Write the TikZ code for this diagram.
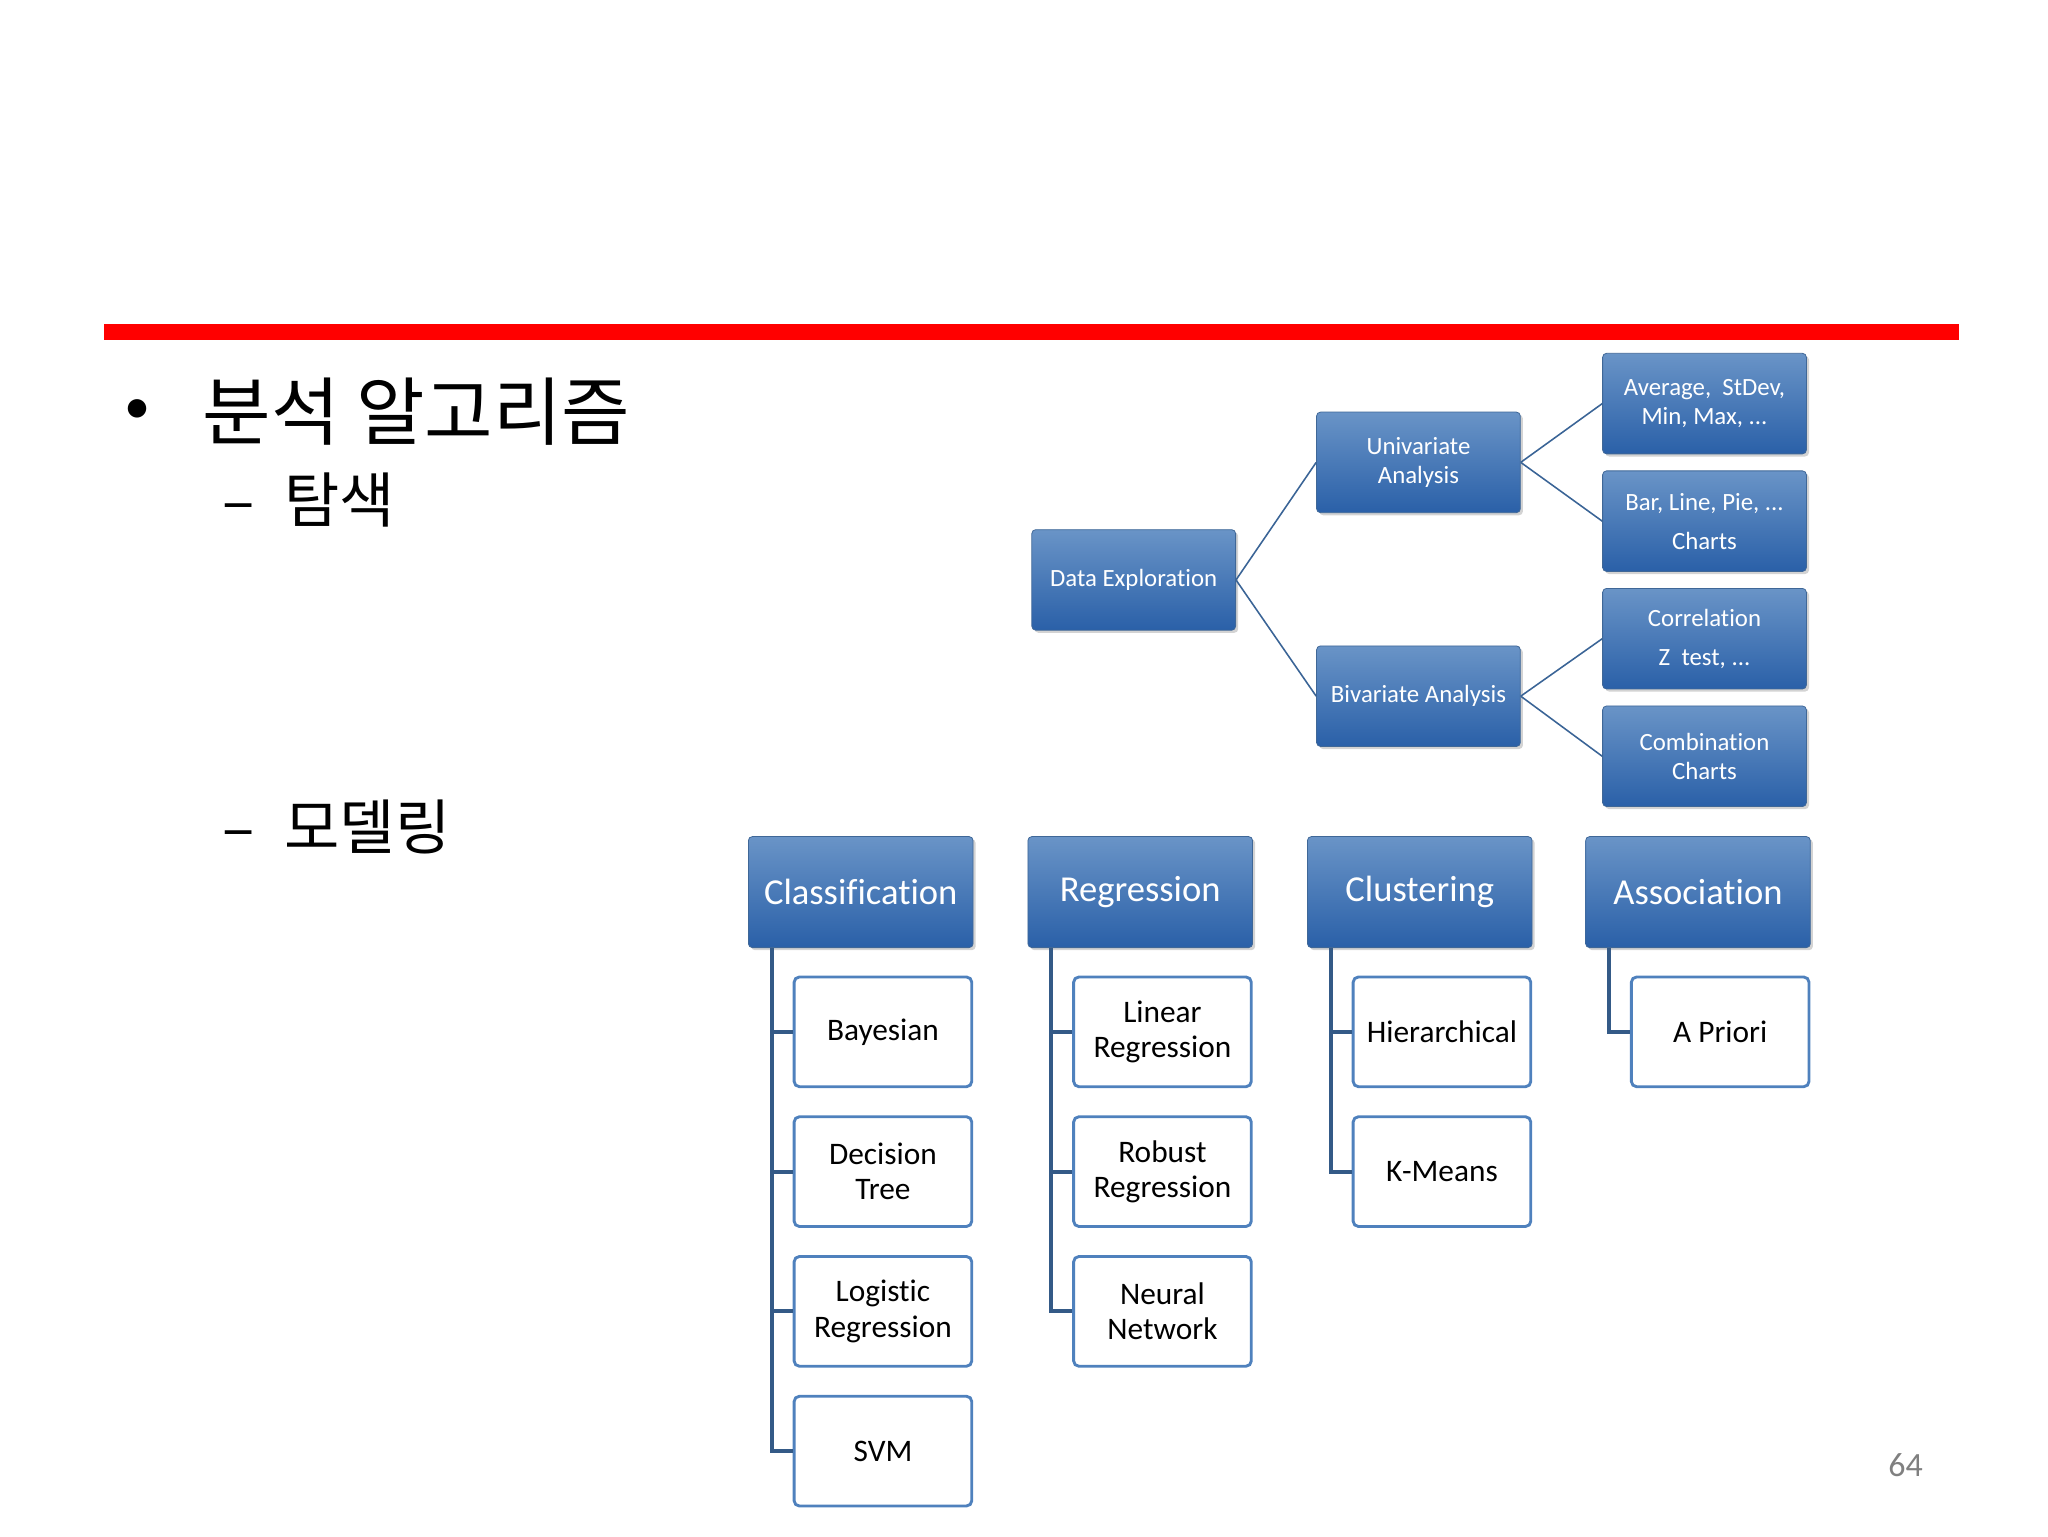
\documentclass[tikz,border=0pt]{standalone}
\usepackage{fontspec}
\setmainfont{Carlito}[Ligatures=CommonOff]
\newfontfamily\kr{Noto Sans CJK KR}
\usetikzlibrary{shadows}
\definecolor{bl}{HTML}{4F81BD}
\definecolor{bld}{HTML}{2A60A8}
\definecolor{ln}{HTML}{3A6496}
\tikzset{
 bbox/.style={rounded corners=3pt, top color=bl!85!white, bottom color=bld, draw=bl!80!black, line width=0.6pt, text=white, align=center, inner sep=0pt, drop shadow={opacity=0.35, shadow xshift=2pt, shadow yshift=-2pt}},
 sbox/.style={bbox, minimum width=156pt, minimum height=77pt, font=\fontsize{19}{22}\selectfont},
 cbox/.style={bbox, minimum width=172pt, minimum height=85pt, font=\fontsize{28}{32}\selectfont},
 wbox/.style={rounded corners=4pt, draw=bl, line width=2.2pt, fill=white, align=center, minimum width=136pt, minimum height=84pt, font=\fontsize{24}{27}\selectfont, text=black},
 conn/.style={draw=ln, line width=1.2pt},
 tree/.style={draw=ln!90!black, line width=3pt},
}
\begin{document}
\begin{tikzpicture}[x=1pt,y=-1pt]
\useasboundingbox (0,0) rectangle (1568,1176);
\fill[red] (80,248) rectangle (1500,260);
\node[anchor=west] (bul) at (92,315) {\fontsize{40}{40}\selectfont •};
\node[anchor=west,inner sep=0] (t1) at (155,315) {\kr\fontsize{57}{62}\selectfont 분석 알고리즘};
\node[anchor=west,inner sep=0] (t2) at (170,383) {\kr\fontsize{46}{50}\selectfont –\hspace{0.5em}탐색};
\node[anchor=west,inner sep=0] (t3) at (170,633) {\kr\fontsize{46}{50}\selectfont –\hspace{0.5em}모델링};
\node[sbox] (de) at (868,444) {Data Exploration};
\node[sbox] (ua) at (1086,354) {Univariate\\Analysis};
\node[sbox] (ba) at (1086,533) {Bivariate Analysis};
\node[sbox] (r1) at (1305,309) {Average,\ \ StDev,\\Min, Max, ...};
\node[sbox] (r2) at (1305,399) {Bar, Line, Pie, ...\\[8pt]Charts};
\node[sbox] (r3) at (1305,489) {Correlation\\[8pt]Z\ \ test, ...};
\node[sbox] (r4) at (1305,579) {Combination\\Charts};
\draw[conn] (de.east) -- (ua.west);
\draw[conn] (de.east) -- (ba.west);
\draw[conn] (ua.east) -- (r1.west);
\draw[conn] (ua.east) -- (r2.west);
\draw[conn] (ba.east) -- (r3.west);
\draw[conn] (ba.east) -- (r4.west);
\node[cbox] (c1) at (659,683) {Classification};
\node[cbox] (c2) at (873,683) {Regression};
\node[cbox] (c3) at (1087,683) {Clustering};
\node[cbox] (c4) at (1300,683) {Association};
\node[wbox] (a1) at (676,790) {Bayesian};
\node[wbox] (a2) at (676,897) {Decision\\Tree};
\node[wbox] (a3) at (676,1004) {Logistic\\Regression};
\node[wbox] (a4) at (676,1111) {SVM};
\node[wbox] (b1) at (890,790) {Linear\\Regression};
\node[wbox] (b2) at (890,897) {Robust\\Regression};
\node[wbox] (b3) at (890,1004) {Neural\\Network};
\node[wbox] (d1) at (1104,790) {Hierarchical};
\node[wbox] (d2) at (1104,897) {K-Means};
\node[wbox] (e1) at (1317,790) {A Priori};
\foreach \p/\xx/\cs in {c1/591/{a1,a2,a3,a4}, c2/805/{b1,b2,b3}, c3/1019/{d1,d2}, c4/1232/{e1}}{
  \foreach \c in \cs { \draw[tree] (\xx,726) |- (\c.west); }
}
\node[text=gray] (pg) at (1459,1122) {\fontsize{26}{28}\selectfont 64};
\end{tikzpicture}
\end{document}
